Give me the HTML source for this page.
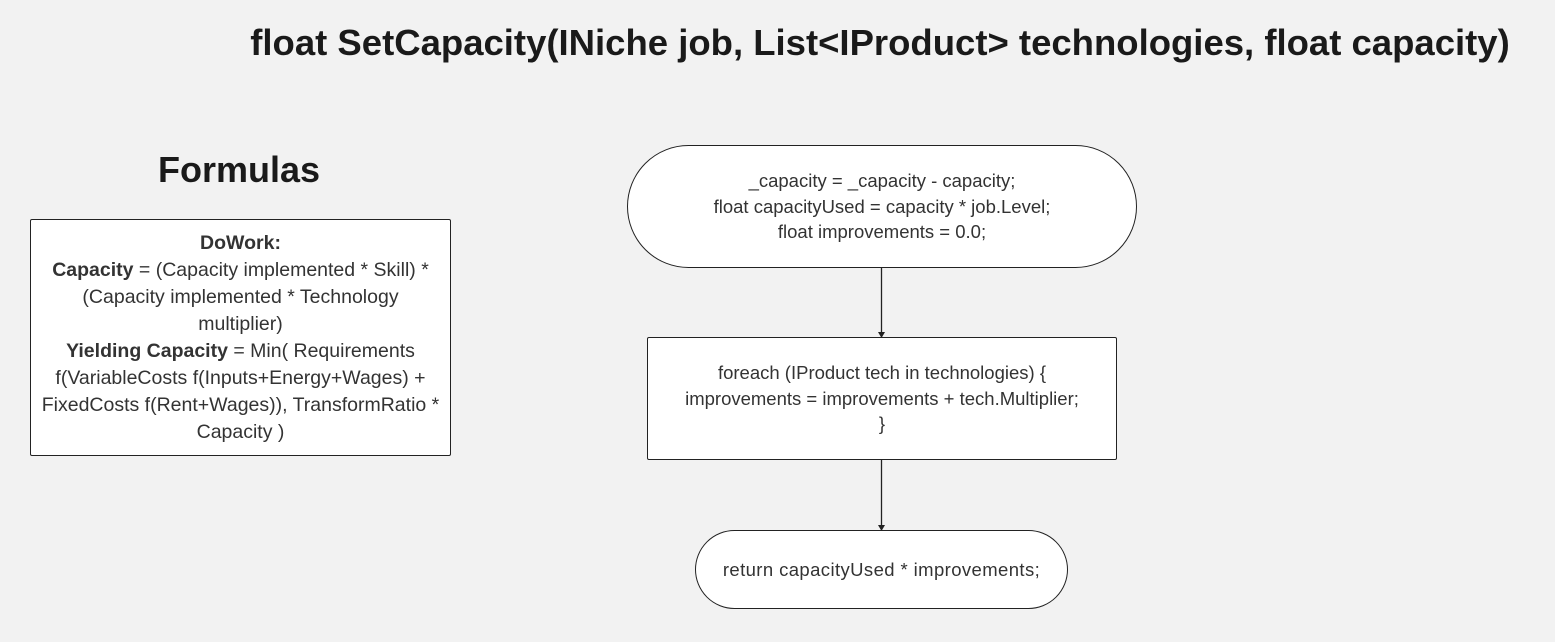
<!DOCTYPE html>
<html><head><meta charset="utf-8"><style>
html,body{margin:0;padding:0;}
body{width:1555px;height:642px;background:#f2f2f2;position:relative;overflow:hidden;font-family:"Liberation Sans",sans-serif;color:#333;}
.t{position:absolute;white-space:nowrap;}
.box{position:absolute;background:#fff;border:1.3px solid #222;box-sizing:border-box;display:flex;align-items:center;justify-content:center;text-align:center;white-space:nowrap;}
</style></head><body>
<div class="t" style="left:200px;top:22px;width:1360px;text-align:center;font-size:36.5px;font-weight:bold;color:#1a1a1a;">float SetCapacity(INiche job, List&lt;IProduct&gt; technologies, float capacity)</div>
<div class="t" style="left:140px;top:149px;width:198px;text-align:center;font-size:36px;font-weight:bold;color:#1a1a1a;">Formulas</div>

<div class="box" style="left:30px;top:219px;width:421px;height:237px;border-radius:2px;font-size:19.5px;line-height:27px;color:#333;">
<div><b>DoWork:</b><br><b>Capacity</b> = (Capacity implemented * Skill) *<br>(Capacity implemented * Technology<br>multiplier)<br><b>Yielding Capacity</b> = Min( Requirements<br>f(VariableCosts f(Inputs+Energy+Wages) +<br>FixedCosts f(Rent+Wages)), TransformRatio *<br>Capacity )</div></div>

<div class="box" style="left:627px;top:145px;width:510px;height:123px;border-radius:62px;font-size:18.5px;line-height:25.5px;">
<div>_capacity = _capacity - capacity;<br>float capacityUsed = capacity * job.Level;<br>float improvements = 0.0;</div></div>

<div class="box" style="left:647px;top:337px;width:470px;height:123px;border-radius:2px;font-size:18.5px;line-height:25.5px;">
<div>foreach (IProduct tech in technologies) {<br>improvements = improvements + tech.Multiplier;<br>}</div></div>

<div class="box" style="left:695px;top:530px;width:373px;height:79px;border-radius:40px;font-size:18.5px;letter-spacing:0.4px;">
<div>return capacityUsed * improvements;</div></div>

<svg style="position:absolute;left:0;top:0" width="1555" height="642">
<line x1="881.5" y1="268" x2="881.5" y2="333" stroke="#222" stroke-width="1.3"/>
<polygon points="878,332 885,332 881.5,338" fill="#222"/>
<line x1="881.5" y1="460" x2="881.5" y2="526" stroke="#222" stroke-width="1.3"/>
<polygon points="878,525 885,525 881.5,531" fill="#222"/>
</svg>
</body></html>
